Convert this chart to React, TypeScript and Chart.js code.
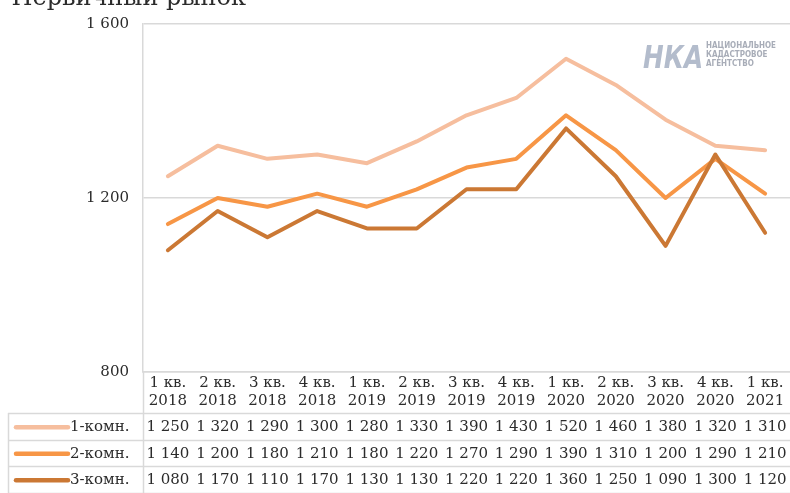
import React, { useEffect, useRef } from "react";
import { Chart, registerables } from "chart.js";
Chart.register(...registerables);

const title = "Первичный рынок";
const categories: string[][] = [
  ["1 кв.", "2018"], ["2 кв.", "2018"], ["3 кв.", "2018"], ["4 кв.", "2018"],
  ["1 кв.", "2019"], ["2 кв.", "2019"], ["3 кв.", "2019"], ["4 кв.", "2019"],
  ["1 кв.", "2020"], ["2 кв.", "2020"], ["3 кв.", "2020"], ["4 кв.", "2020"],
  ["1 кв.", "2021"],
];
const seriesNames = ["1-комн.", "2-комн.", "3-комн."];
const oneRoom = [1250, 1320, 1290, 1300, 1280, 1330, 1390, 1430, 1520, 1460, 1380, 1320, 1310];
const twoRoom = [1140, 1200, 1180, 1210, 1180, 1220, 1270, 1290, 1390, 1310, 1200, 1290, 1210];
const threeRoom = [1080, 1170, 1110, 1170, 1130, 1130, 1220, 1220, 1360, 1250, 1090, 1300, 1120];
const yMin = 800;
const yMax = 1600;
const yStep = 400;
const logoLines = ["НАЦИОНАЛЬНОЕ", "КАДАСТРОВОЕ", "АГЕНТСТВО"];

const seriesValues = [oneRoom, twoRoom, threeRoom];
const colors = ["#F6BE9E", "#F79646", "#CB7834"];
const gridColor = "#D9D9D9";
const textColor = "#2B2B2B";
const FONT = "'DejaVu Serif', serif";

const fmt = (v: number) => {
  const s = String(v);
  return s.length > 3 ? s.slice(0, -3) + " " + s.slice(-3) : s;
};

const tablePlugin = {
  id: "dataTable",
  afterDraw(chart: any) {
    const ctx = chart.ctx as CanvasRenderingContext2D;
    const area = chart.chartArea;
    const xs = chart.scales.x;
    const W = chart.width;
    const H = chart.height;
    const tableTop = area.bottom + 41;
    const rowH = 26.5;
    ctx.save();
    // title (cut off at top)
    ctx.fillStyle = textColor;
    ctx.font = `24px ${FONT}`;
    ctx.textAlign = "right";
    ctx.textBaseline = "alphabetic";
    ctx.fillText(title, 246, 5);

    // table grid
    ctx.strokeStyle = gridColor;
    ctx.lineWidth = 1.5;
    for (let i = 0; i <= 3; i++) {
      const y = Math.round(tableTop + i * rowH) + 0.5;
      ctx.beginPath();
      ctx.moveTo(8, y);
      ctx.lineTo(W, y);
      ctx.stroke();
    }
    ctx.beginPath();
    ctx.moveTo(8.5, tableTop);
    ctx.lineTo(8.5, H);
    ctx.stroke();
    ctx.beginPath();
    ctx.moveTo(Math.round(area.left) + 0.5, area.bottom);
    ctx.lineTo(Math.round(area.left) + 0.5, H);
    ctx.stroke();

    ctx.font = `15px ${FONT}`;
    ctx.textBaseline = "middle";
    seriesValues.forEach((vals, r) => {
      const cy = tableTop + r * rowH + rowH / 2 + 1;
      // legend line
      ctx.strokeStyle = colors[r];
      ctx.lineWidth = 4.5;
      ctx.lineCap = "round";
      ctx.beginPath();
      ctx.moveTo(16, cy);
      ctx.lineTo(68, cy);
      ctx.stroke();
      ctx.fillStyle = textColor;
      ctx.textAlign = "left";
      ctx.fillText(seriesNames[r], 70, cy);
      ctx.textAlign = "center";
      vals.forEach((v, i) => {
        ctx.fillText(fmt(v), xs.getPixelForValue(i), cy);
      });
    });

    // logo
    ctx.fillStyle = "#B3BCCC";
    ctx.font = `italic bold 32px 'DejaVu Sans', sans-serif`;
    ctx.textAlign = "left";
    ctx.textBaseline = "alphabetic";
    ctx.fillText("НКА", 643, 68, 60);
    ctx.fillStyle = "#A8ADB8";
    ctx.font = `bold 8px 'DejaVu Sans Condensed', 'DejaVu Sans', sans-serif`;
    logoLines.forEach((t, i) => ctx.fillText(t, 706, 48 + i * 9, 70));
    ctx.restore();
  },
};

export default function App() {
  const ref = useRef<HTMLCanvasElement>(null);
  useEffect(() => {
    if (!ref.current) return;
    const order = [3, 2, 1];
    const chart = new Chart(ref.current, {
      type: "line",
      data: {
        labels: categories,
        datasets: seriesValues.map((vals, i) => ({
          label: seriesNames[i],
          data: vals,
          borderColor: colors[i],
          backgroundColor: colors[i],
          borderWidth: 4,
          pointRadius: 0,
          tension: 0,
          borderCapStyle: "round" as const,
          borderJoinStyle: "round" as const,
          order: order[i],
        })),
      },
      options: {
        animation: false,
        responsive: false,
        devicePixelRatio: 1,
        layout: { padding: { top: 24, right: 0, left: 0, bottom: 0 } },
        plugins: { legend: { display: false }, tooltip: { enabled: false } },
        font: { family: FONT, size: 15 },
        scales: {
          x: {
            offset: true,
            grid: { display: false, drawTicks: false },
            border: { display: true, color: gridColor, width: 1.5 },
            ticks: {
              color: textColor,
              font: { family: FONT, size: 15, lineHeight: 1.2 },
              autoSkip: false,
              maxRotation: 0,
              padding: 2,
            },
            afterFit: (s: any) => { s.height = 121; },
          },
          y: {
            min: yMin,
            max: yMax,
            grid: { color: gridColor, lineWidth: 1.5, drawTicks: false },
            border: { display: true, color: gridColor, width: 1.5 },
            ticks: {
              stepSize: yStep,
              color: textColor,
              padding: 14,
              font: { family: FONT, size: 15 },
              callback: (v: any) => fmt(Number(v)),
            },
            afterFit: (s: any) => { s.width = 143; },
          },
        },
      } as any,
      plugins: [tablePlugin],
    });
    return () => chart.destroy();
  }, []);
  return (
    <div style={{ position: "fixed", left: 0, top: 0, width: 790, height: 493 }}>
      <canvas ref={ref} width={790} height={493} />
    </div>
  );
}
